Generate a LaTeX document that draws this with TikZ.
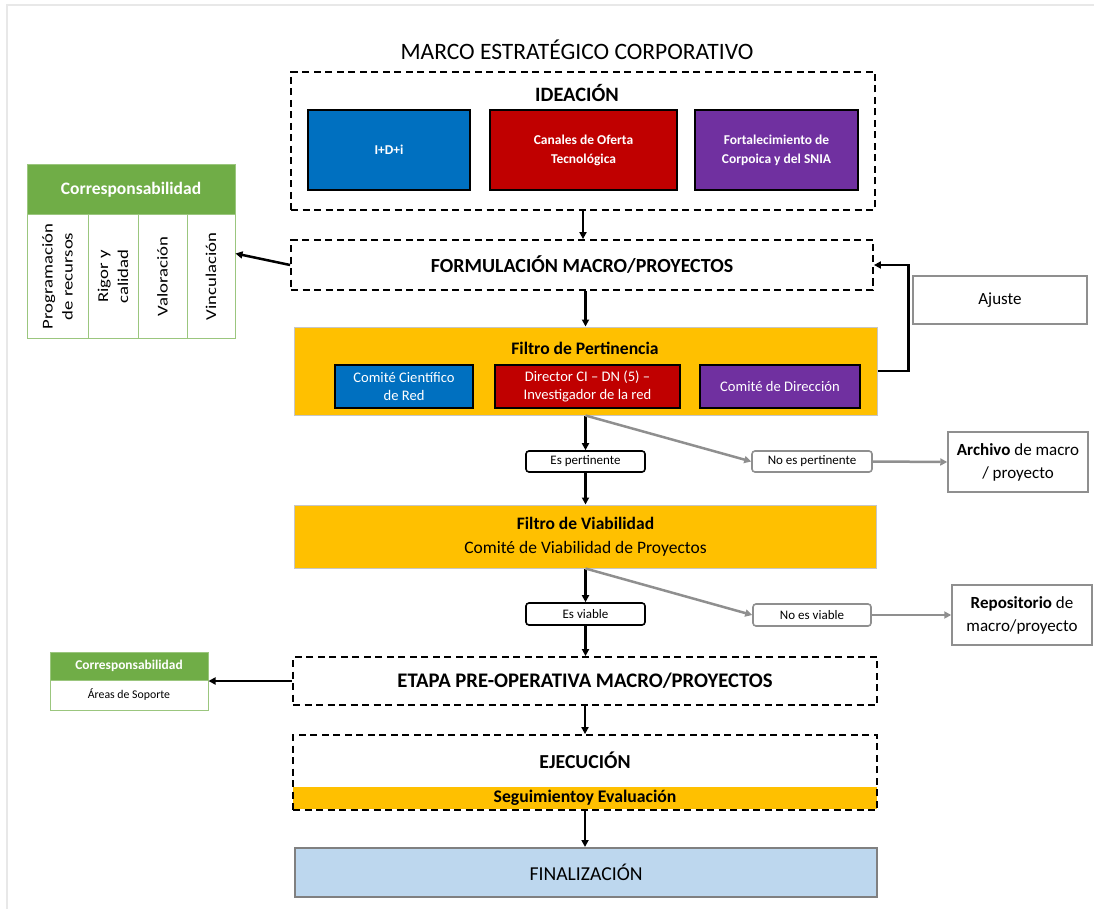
\documentclass[tikz,border=0pt]{standalone}
\usepackage{fontspec}
\setmainfont{Carlito}
\usetikzlibrary{arrows.meta}

\definecolor{azul}{HTML}{0070C0}
\definecolor{rojo}{HTML}{C00000}
\definecolor{morado}{HTML}{7030A0}
\definecolor{naranja}{HTML}{FFC000}
\definecolor{verde}{HTML}{70AD47}
\definecolor{celeste}{HTML}{BDD7EE}
\definecolor{gris}{HTML}{8F8F8F}

\tikzset{
	dashbox/.style={draw, line width=1.8pt, dash pattern=on 7pt off 4.5pt},
	colbox/.style={draw=black, line width=2.8pt, text=white, align=center, inner sep=0pt, font=\fontsize{13.5}{19}\selectfont\bfseries},
	subbox/.style={draw=black, line width=2.8pt, text=white, align=center, inner sep=0pt, font=\fontsize{14.6}{18}\selectfont},
	filtro/.style={fill=naranja, draw=gray!45, line width=1pt, inner sep=0pt},
	decision/.style={draw, rounded corners=3pt, line width=1.6pt, fill=white, inner sep=0pt, font=\fontsize{13}{15}\selectfont},
	salida/.style={draw=gris, line width=1.5pt, align=center, inner sep=0pt, font=\fontsize{17}{23}\selectfont},
	celda/.style={draw=verde!70, line width=1pt, inner sep=0pt, align=center},
	vertical/.style={rotate=90, align=center, font=\fontsize{15}{20}\selectfont},
	flecha/.style={-{Triangle[length=7pt,width=7pt]}, line width=2.5pt},
	flechagris/.style={-{Triangle[length=7pt,width=7pt]}, line width=2.5pt, gris}
}

\begin{document}
\begin{tikzpicture}[x=1pt,y=-1pt]
	\useasboundingbox (0,0) rectangle (1094,909);
	\draw[gray!18, line width=2pt] (7,909) -- (7,5) -- (1094,5);
	
	\node (marco) at (577,50) {\fontsize{23.5}{26}\selectfont MARCO ESTRATÉGICO CORPORATIVO};
	
	\node[dashbox, minimum width=584, minimum height=138] (ideacion) at (583,141) {};
	\node (ideatxt) at (577,93) {\fontsize{20.4}{23}\selectfont\bfseries IDEACIÓN};
	\node[colbox, fill=azul, minimum width=162, minimum height=80] (idi) at (389,150) {I+D+i};
	\node[colbox, fill=rojo, minimum width=187, minimum height=80] (canales) at (583.5,150) {Canales de Oferta\\Tecnológica};
	\node[colbox, fill=morado, minimum width=163, minimum height=80] (fortal) at (776.5,150) {Fortalecimiento de\\Corpoica y del SNIA};
	
	\node[dashbox, minimum width=582, minimum height=50, font=\fontsize{20}{23}\selectfont\bfseries] (formul) at (582,265) {FORMULACIÓN MACRO/PROYECTOS};
	
	\node[filtro, minimum width=583, minimum height=88] (pertin) at (585.5,371) {};
	\node (pertxt) at (585,348) {\fontsize{17.6}{20}\selectfont\bfseries Filtro de Pertinencia};
	\node[subbox, fill=azul, minimum width=138, minimum height=43] (comcien) at (404,386.5) {Comité Científico\\de Red};
	\node[subbox, fill=rojo, minimum width=185, minimum height=43] (director) at (587.5,386.5) {Director CI -- DN (5) --\\Investigador de la red};
	\node[subbox, fill=morado, minimum width=160, minimum height=43] (comdir) at (780,386.5) {Comité de Dirección};
	
	\node[salida, minimum width=174, minimum height=48] (ajuste) at (1000,300) {Ajuste};
	
	\node[celda, fill=verde, text=white, minimum width=208, minimum height=50, font=\fontsize{17.5}{20}\selectfont\bfseries] (corresp) at (131,190) {Corresponsabilidad};
	\node[celda, minimum width=61, minimum height=123] (progcol) at (57.5,276.5) {};
	\node[celda, minimum width=50, minimum height=123] (rigorcol) at (113,276.5) {};
	\node[celda, minimum width=49, minimum height=123] (valcol) at (162.5,276.5) {};
	\node[celda, minimum width=48, minimum height=123] (vinccol) at (211,276.5) {};
	\node[vertical] (prog) at (progcol) {\scalebox{1.25}[1]{Programación}\\\scalebox{1.25}[1]{de recursos}};
	\node[vertical] (rigor) at (rigorcol) {\scalebox{1.25}[1]{Rigor y}\\\scalebox{1.25}[1]{calidad}};
	\node[vertical] (val) at (valcol) {\scalebox{1.25}[1]{Valoración}};
	\node[vertical] (vinc) at (vinccol) {\scalebox{1.25}[1]{Vinculación}};
	
	\node[decision, minimum width=119, minimum height=21] (espert) at (585.5,461.5) {Es pertinente};
	\node[decision, draw=gris, minimum width=120, minimum height=21] (noespert) at (812,461.5) {No es pertinente};
	\node[salida, minimum width=140, minimum height=60] (archivo) at (1018,462) {\textbf{Archivo} de macro\\/ proyecto};
	
	\node[filtro, minimum width=582, minimum height=63, align=center, font=\fontsize{17.5}{24}\selectfont] (viab) at (585.5,536.5) {\textbf{Filtro de Viabilidad}\\Comité de Viabilidad de Proyectos};
	
	\node[decision, minimum width=119, minimum height=22] (esviable) at (585.5,614) {Es viable};
	\node[decision, draw=gris, minimum width=118, minimum height=22] (noviable) at (812,615) {No es viable};
	\node[salida, minimum width=140, minimum height=60] (repos) at (1022,615) {\textbf{Repositorio} de\\macro/proyecto};
	
	\node[dashbox, minimum width=584, minimum height=48, font=\fontsize{20.7}{23}\selectfont\bfseries] (preop) at (585,681) {ETAPA PRE-OPERATIVA MACRO/PROYECTOS};
	
	\node[celda, fill=verde, text=white, minimum width=158, minimum height=28, font=\fontsize{13.4}{16}\selectfont\bfseries] (corresp2) at (129,666) {Corresponsabilidad};
	\node[celda, minimum width=158, minimum height=30, font=\fontsize{11.8}{14}\selectfont] (areas) at (129,695) {Áreas de Soporte};
	
	\fill[naranja] (293,787) rectangle (877,809);
	\node[dashbox, minimum width=584, minimum height=75] (ejec) at (585,772.5) {};
	\node (ejectxt) at (585,760) {\fontsize{19.8}{22}\selectfont\bfseries EJECUCIÓN};
	\node (segui) at (585,798) {\fontsize{17.7}{20}\selectfont\bfseries Seguimientoy Evaluación};
	
	\node[fill=celeste, draw=gray, line width=2pt, minimum width=582, minimum height=49, font=\fontsize{19.7}{22}\selectfont] (final) at (586,872.5) {FINALIZACIÓN};
	
	\draw[flecha] (ideacion.south) -- (ideacion.south |- formul.north);
	\draw[flecha] (formul.south -| pertin.north) -- (pertin.north);
	\draw[flecha] (pertin.east) -- ++(31,0) |- (formul.east);
	\draw[flecha] (formul.west) -- ([yshift=23pt]vinccol.east);
	\draw[flecha] (pertin.south) -- (espert.north);
	\draw[flecha] (espert.south) -- (viab.north);
	\draw[flechagris] (pertin.south) -- (noespert.west);
	\draw[flechagris] (noespert.east) -- (archivo.west);
	\draw[flecha] (viab.south) -- (esviable.north);
	\draw[flecha] (esviable.south) -- (esviable.south |- preop.north);
	\draw[flechagris] (viab.south) -- (noviable.west);
	\draw[flechagris] (noviable.east) -- (repos.west);
	\draw[flecha] (preop.west) -- (preop.west -| areas.east);
	\draw[flecha] (preop.south) -- (ejec.north);
	\draw[flecha] (ejec.south) -- (ejec.south |- final.north);
\end{tikzpicture}
\end{document}
